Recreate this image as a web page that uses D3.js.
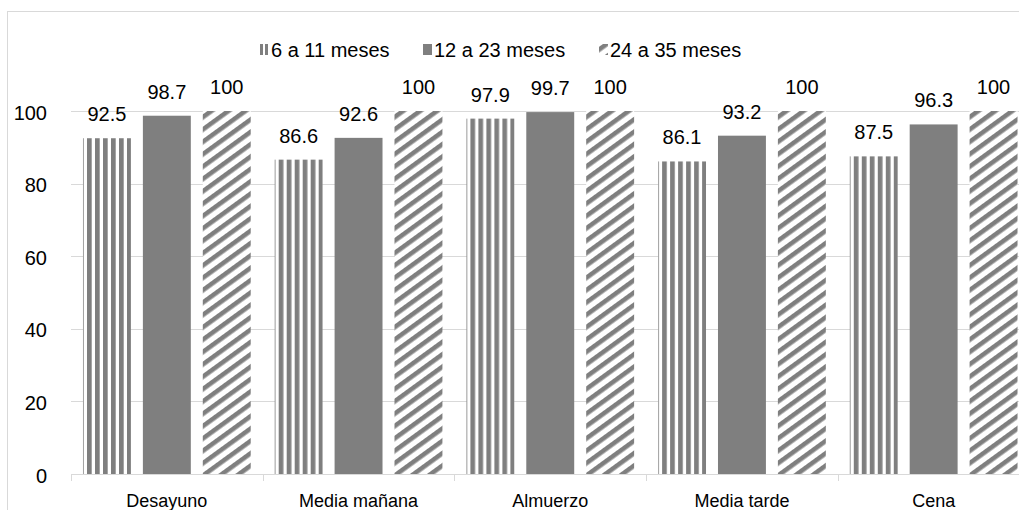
<!DOCTYPE html>
<html>
<head>
<meta charset="utf-8">
<script src="https://cdn.jsdelivr.net/npm/d3@7"></script>
<style>
  html, body { margin: 0; padding: 0; background: #fff; }
  svg { display: block; font-family: "Liberation Sans", Arial, sans-serif; }
</style>
</head>
<body>
<svg id="chart" width="1019" height="510"></svg>
<script>
// Meal categories and series (percentages per age group)
const categories = ["Desayuno", "Media mañana", "Almuerzo", "Media tarde", "Cena"];
const seriesNames = ["6 a 11 meses", "12 a 23 meses", "24 a 35 meses"];
const values6a11 = [92.5, 86.6, 97.9, 86.1, 87.5];
const values12a23 = [98.7, 92.6, 99.7, 93.2, 96.3];
const values24a35 = [100, 100, 100, 100, 100];
const yTicks = [0, 20, 40, 60, 80, 100];

const seriesValues = [values6a11, values12a23, values24a35];

const svg = d3.select("#chart");
const W = 1019, H = 510;
const plot = { left: 71, right: 1029.5, top: 111, bottom: 474 };
const gray = "#7f7f7f";
const gridColor = "#d9d9d9";

// Fill patterns: vertical stripes, solid, wide upward diagonal
const defs = svg.append("defs");
const pv = defs.append("pattern")
  .attr("id", "pat-vert").attr("patternUnits", "userSpaceOnUse")
  .attr("width", 8).attr("height", 8);
pv.append("rect").attr("x", 0).attr("y", 0).attr("width", 8).attr("height", 8).attr("fill", "#fff");
pv.append("rect").attr("x", 0).attr("y", 0).attr("width", 4.7).attr("height", 8).attr("fill", gray);

const pd = defs.append("pattern")
  .attr("id", "pat-diag").attr("patternUnits", "userSpaceOnUse")
  .attr("width", 10).attr("height", 10)
  .attr("patternTransform", "rotate(-36)");
pd.append("rect").attr("x", 0).attr("y", 0).attr("width", 10).attr("height", 10).attr("fill", "#fff");
pd.append("rect").attr("x", 0).attr("y", 0).attr("width", 10).attr("height", 4.6).attr("fill", gray);

const fills = ["url(#pat-vert)", gray, "url(#pat-diag)"];

// Chart frame
svg.append("rect")
  .attr("x", 7.5).attr("y", 11.5).attr("width", W + 20).attr("height", H + 20)
  .attr("fill", "none").attr("stroke", gridColor).attr("stroke-width", 1);

// Scales
const x0 = d3.scaleBand().domain(categories).range([plot.left, plot.right]).padding(0);
const x1 = d3.scaleBand().domain(d3.range(seriesNames.length))
  .range([0, x0.bandwidth()]).paddingInner(0.2).paddingOuter(0.2);
const y = d3.scaleLinear().domain([0, 100]).range([plot.bottom, plot.top]);

// Horizontal gridlines
svg.append("g").selectAll("line").data(yTicks.filter(d => d > 0)).join("line")
  .attr("x1", plot.left).attr("x2", plot.right)
  .attr("y1", d => Math.round(y(d)) + 0.5).attr("y2", d => Math.round(y(d)) + 0.5)
  .attr("stroke", gridColor).attr("stroke-width", 1);

// Y axis labels
const yAxis = d3.axisLeft(y).tickValues(yTicks).tickSize(0).tickPadding(0);
const gy = svg.append("g").attr("transform", `translate(${47},0)`).call(yAxis);
gy.select(".domain").remove();
gy.selectAll("text").attr("font-size", 20).attr("fill", "#000")
  .attr("font-family", "Liberation Sans, Arial, sans-serif").attr("dy", "0.4em");

// Bars
const groups = svg.append("g").selectAll("g").data(categories).join("g")
  .attr("transform", d => `translate(${x0(d)},0)`);

groups.each(function(cat, ci) {
  const g = d3.select(this);
  seriesValues.forEach((vals, si) => {
    const v = vals[ci];
    g.append("rect")
      .attr("x", x1(si)).attr("width", x1.bandwidth())
      .attr("y", y(v)).attr("height", y(0) - y(v))
      .attr("fill", fills[si]);
    g.append("text")
      .attr("x", x1(si) + x1.bandwidth() / 2)
      .attr("y", y(v) - 17)
      .attr("text-anchor", "middle")
      .attr("font-size", 20).attr("fill", "#000")
      .text(d3.format(".1~f")(v));
  });
});

// X axis with category separators
const xAxis = d3.axisBottom(x0).tickSize(0).tickPadding(0);
const gx = svg.append("g").attr("transform", `translate(0,${plot.bottom})`).call(xAxis);
gx.select(".domain").attr("stroke", gridColor).attr("d", `M${plot.left},0.5H${plot.right}`);
gx.selectAll("text").attr("font-size", 18).attr("fill", "#000")
  .attr("font-family", "Liberation Sans, Arial, sans-serif")
  .attr("y", 33).attr("dy", 0);
const sepBounds = categories.map(c => x0(c)).concat([plot.right]);
gx.append("g").selectAll("line").data(sepBounds).join("line")
  .attr("x1", d => Math.round(d) + 0.5).attr("x2", d => Math.round(d) + 0.5)
  .attr("y1", 0).attr("y2", 7)
  .attr("stroke", gridColor);

// Legend
const legendItems = [
  { x: 260, tx: 271 },
  { x: 423, tx: 434 },
  { x: 599, tx: 610 }
];
const legend = svg.append("g");
seriesNames.forEach((name, i) => {
  const it = legendItems[i];
  const lg = legend.append("g");
  if (i === 0) {
    lg.append("rect").attr("x", it.x).attr("y", 44).attr("width", 3).attr("height", 11).attr("fill", gray);
    lg.append("rect").attr("x", it.x + 5).attr("y", 44).attr("width", 3).attr("height", 11).attr("fill", gray);
  } else if (i === 1) {
    lg.append("rect").attr("x", it.x).attr("y", 44).attr("width", 9).attr("height", 11).attr("fill", gray);
  } else {
    lg.append("rect").attr("x", it.x).attr("y", 44).attr("width", 9).attr("height", 11).attr("fill", "url(#pat-diag)");
  }
  lg.append("text").attr("x", it.tx).attr("y", 57)
    .attr("font-size", 20).attr("fill", "#000").text(name);
});
</script>
</body>
</html>
